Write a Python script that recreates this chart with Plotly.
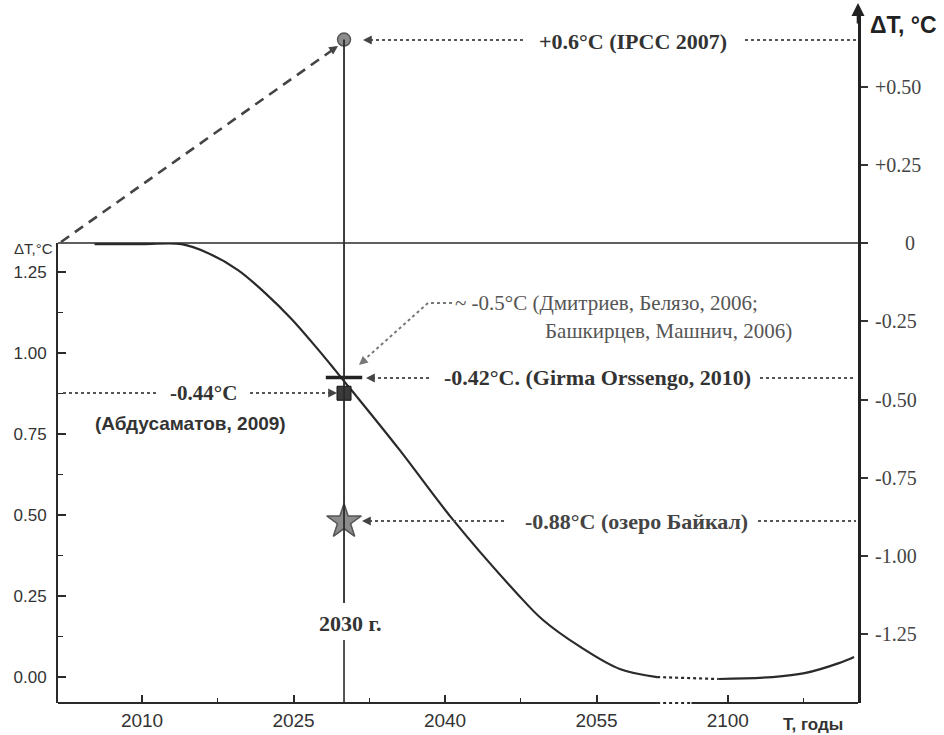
import plotly.graph_objects as go

# ---------------- data ----------------
# main curve, left axis (ΔT, °C), years
years_a = [2005.3, 2010.0, 2013.9, 2016.5, 2019.5, 2022.2, 2024.8, 2027.4, 2029.1,
           2030.4, 2031.3, 2035.5, 2040.8, 2047.1, 2049.7, 2053.4, 2057.3, 2061.0]
vals_a = [1.336, 1.336, 1.336, 1.309, 1.256, 1.185, 1.105, 1.012, 0.948,
          0.898, 0.864, 0.701, 0.485, 0.259, 0.176, 0.093, 0.025, 0.0]
years_gap = [2061.0, 2099.1]
vals_gap = [0.0, -0.006]
years_b = [2099.1, 2104.4, 2107.6, 2111.0, 2112.5]
vals_b = [-0.006, 0.0, 0.012, 0.043, 0.062]

# estimates for 2030 (right axis, ΔT relative, °C)
est_year = 2030
ipcc_val = 0.65
girma_val = -0.43
abdus_val = -0.48
baikal_val = -0.89

x_major = [2010, 2025, 2040, 2055, 2100]
x_minor = [2017.5, 2032.5, 2047.5, 2107.5]
left_ticks = [0.0, 0.25, 0.50, 0.75, 1.00, 1.25]
left_minor = [0.125, 0.375, 0.625, 0.875, 1.125]
right_ticks = [-1.25, -1.00, -0.75, -0.50, -0.25, 0.0, 0.25, 0.50]
right_text = ['-1.25', '-1.00', '-0.75', '-0.50', '-0.25',
              '\u00a0' * 6 + '0', '+0.25', '+0.50']


def brk(yr):
    """broken time axis: 2062..2094 is cut out"""
    return yr if yr <= 2062 else yr - 32


W, H = 944, 735
L, R, T, B = 58, 86, 10, 32
PW, PH = W - L - R, H - T - B


def X(px):
    return (px - L) / PW


def Y(py):
    return (H - B - py) / PH


INK = '#2a2a2a'
SERIF = 'Liberation Serif'
SANS = 'Liberation Sans'

fig = go.Figure()

# main curve
fig.add_trace(go.Scatter(x=[brk(v) for v in years_a], y=vals_a, mode='lines',
                         line=dict(color=INK, width=2.2, shape='spline', smoothing=1.0),
                         xaxis='x', yaxis='y', hoverinfo='skip'))
fig.add_trace(go.Scatter(x=[brk(v) for v in years_gap], y=vals_gap, mode='lines',
                         line=dict(color=INK, width=2.2, dash='dot'),
                         xaxis='x', yaxis='y', hoverinfo='skip'))
fig.add_trace(go.Scatter(x=[brk(v) for v in years_b], y=vals_b, mode='lines',
                         line=dict(color=INK, width=2.2, shape='spline', smoothing=1.0),
                         xaxis='x', yaxis='y', hoverinfo='skip'))

# 2030 estimates (right axis)
fig.add_trace(go.Scatter(x=[est_year], y=[ipcc_val], mode='markers', yaxis='y2',
                         marker=dict(symbol='circle', size=13, color='#8c8c8c',
                                     line=dict(color='#555', width=1.5))))
fig.add_trace(go.Scatter(x=[est_year], y=[girma_val], mode='markers', yaxis='y2',
                         marker=dict(symbol='line-ew', size=26,
                                     line=dict(color='#222', width=3.5))))
fig.add_trace(go.Scatter(x=[est_year], y=[abdus_val], mode='markers', yaxis='y2',
                         marker=dict(symbol='square', size=14, color='#3a3a3a',
                                     line=dict(color='#111', width=1))))
fig.add_trace(go.Scatter(x=[est_year], y=[baikal_val], mode='markers', yaxis='y2',
                         marker=dict(symbol='star', size=26, color='#8c8c8c',
                                     line=dict(color='#555', width=1.5))))

shapes = []
# broken bottom axis
gap0, gap1 = 2061.0, 2064.4
xr = [2001.68, 2080.89]
shapes.append(dict(type='line', xref='x', yref='paper', x0=xr[0], x1=gap0, y0=0, y1=0,
                   line=dict(color=INK, width=2)))
shapes.append(dict(type='line', xref='x', yref='paper', x0=gap0, x1=gap1, y0=0, y1=0,
                   line=dict(color=INK, width=2, dash='dot')))
shapes.append(dict(type='line', xref='x', yref='paper', x0=gap1, x1=xr[1], y0=0, y1=0,
                   line=dict(color=INK, width=2)))
# zero line of right axis / top of left axis
shapes.append(dict(type='line', xref='paper', yref='y2', x0=0, x1=1, y0=0, y1=0,
                   line=dict(color=INK, width=1.6)))
# 2030 vertical line (with a gap for its label)
shapes.append(dict(type='line', xref='x', yref='y2', x0=est_year, x1=est_year,
                   y0=ipcc_val, y1=(243 - 603) / 313, line=dict(color=INK, width=1.8)))
shapes.append(dict(type='line', xref='x', yref='paper', x0=est_year, x1=est_year,
                   y0=0, y1=Y(640), line=dict(color=INK, width=1.6)))


def seg(p0, p1, color='#555', width=2, dash='dot'):
    shapes.append(dict(type='line', xref='paper', yref='paper',
                       x0=X(p0[0]), y0=Y(p0[1]), x1=X(p1[0]), y1=Y(p1[1]),
                       line=dict(color=color, width=width, dash=dash)))


# IPCC dashed trend line
seg((61, 242), (331, 51), color='#444', width=2.6, dash='10px,7px')
# dotted leaders
seg((370, 40), (525, 40))
seg((745, 40), (856, 40))
seg((452, 303), (428, 303), color='#777')
seg((428, 303), (364, 360), color='#777')
seg((372, 378), (432, 378))
seg((760, 378), (856, 378))
seg((63, 393), (157, 393))
seg((250, 393), (330, 393))
seg((369, 521), (507, 521))
seg((758, 521), (856, 521))

ann = []


def head(p, ax, ay, color='#444'):
    ann.append(dict(xref='paper', yref='paper', x=X(p[0]), y=Y(p[1]), ax=ax, ay=ay,
                    text='', showarrow=True, arrowhead=2, arrowsize=1.1, arrowwidth=1.6,
                    arrowcolor=color, standoff=0))


head((338, 46), -9, 6)
head((363, 40), 9, 0)
head((359, 365), 8, -7, color='#777')
head((366, 378), 9, 0)
head((337, 393), -9, 0)
head((362, 521), 9, 0)
# arrow at top of right axis
ann.append(dict(xref='paper', yref='paper', x=1, y=Y(3), ax=0, ay=22, text='',
                showarrow=True, arrowhead=2, arrowsize=1.0, arrowwidth=2.6,
                arrowcolor='#222', standoff=0))


def txt(s, px, py, size, family=SERIF, bold=True, color='#333', anchor='center'):
    ann.append(dict(xref='paper', yref='paper', x=X(px), y=Y(py),
                    text=f'<b>{s}</b>' if bold else s, showarrow=False,
                    xanchor=anchor, yanchor='middle',
                    font=dict(family=family, size=size, color=color)))


txt('+0.6°C (IPCC 2007)', 633, 41, 22)
txt('~ -0.5°C (Дмитриев, Белязо, 2006;', 453, 303, 21, bold=False, color='#555', anchor='left')
txt('Башкирцев, Машнич, 2006)', 794, 331, 21, bold=False, color='#555', anchor='right')
txt('-0.42°C. (Girma Orssengo, 2010)', 442, 378, 22, anchor='left')
txt('-0.44°C', 203, 393, 21)
txt('(Абдусаматов, 2009)', 190, 423, 19, family=SANS)
txt('-0.88°C (озеро Байкал)', 523, 521, 22, color='#444', anchor='left')
txt('2030 г.', 350, 623, 22)
txt('ΔT, °C', 868, 25, 23, family=SANS, color='#222', anchor='left')
txt('ΔT,°C', 55, 248, 15, family=SANS, bold=False, color='#333', anchor='right')
txt('T, годы', 781, 725, 17, family=SANS, color='#333', anchor='left')

fig.update_layout(
    width=W, height=H, margin=dict(l=L, r=R, t=T, b=B, autoexpand=False),
    paper_bgcolor='white', plot_bgcolor='rgba(0,0,0,0)', showlegend=False,
    shapes=shapes, annotations=ann,
    xaxis=dict(range=xr, anchor='y', showline=False, showgrid=False, zeroline=False,
               automargin=False,
               tickvals=[brk(v) for v in x_major], ticktext=[str(v) for v in x_major],
               ticks='inside', ticklen=8, tickwidth=1.6, tickcolor=INK,
               minor=dict(tickvals=[brk(v) for v in x_minor], ticks='inside', ticklen=5,
                          tickwidth=1.4, tickcolor=INK),
               tickfont=dict(family=SANS, size=19, color='#333'), ticklabelstandoff=4),
    yaxis=dict(domain=[0, Y(243)], range=[-0.080, 1.3395], anchor='x', side='left',
               automargin=False,
               showline=True, linecolor=INK, linewidth=2, showgrid=False, zeroline=False,
               tickvals=left_ticks, ticktext=[f'{v:.2f}' for v in left_ticks],
               ticks='inside', ticklen=8, tickwidth=1.6, tickcolor=INK,
               minor=dict(tickvals=left_minor, ticks='inside', ticklen=5, tickwidth=1.4,
                          tickcolor=INK),
               tickfont=dict(family=SANS, size=17, color='#333'), ticklabelstandoff=6),
    yaxis2=dict(domain=[0, 1], range=[(243 - 703) / 313, (243 - 10) / 313], anchor='x',
                side='right', showline=True, linecolor='#222', linewidth=3.2,
                automargin=False,
                showgrid=False, zeroline=False,
                tickvals=right_ticks, ticktext=right_text,
                ticks='outside', ticklen=7, tickwidth=1.6, tickcolor='#333',
                tickfont=dict(family=SERIF, size=20, color='#444'), ticklabelstandoff=3),
)

fig.write_html('out.html', config={'displayModeBar': False},
               post_script="document.body.style.margin='0';"
                           "document.documentElement.style.overflow='hidden';")
